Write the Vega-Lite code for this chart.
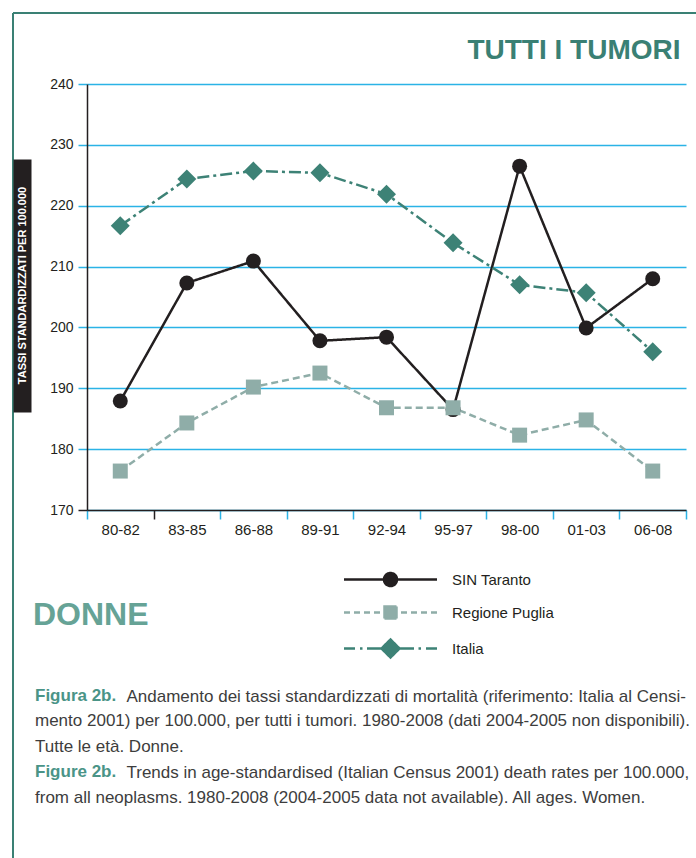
{
  "$schema": "https://vega.github.io/schema/vega-lite/v6.json",
  "width": 683,
  "height": 845,
  "autosize": {"type": "none"},
  "padding": {"left": 13, "top": 13, "right": 0, "bottom": 0},
  "background": "white",
  "config": {
    "view": {"stroke": "#3a8074", "strokeWidth": 2, "strokeDash": [683, 1528, 845, 0]},
    "font": "Liberation Sans"
  },
  "title": {
    "text": [
      "\u200b",
      "mento 2001) per 100.000, per tutti i tumori. 1980-2008 (dati 2004-2005 non disponibili).",
      "Tutte le età. Donne.",
      "\u200b",
      "from all neoplasms. 1980-2008 (2004-2005 data not available). All ages. Women."
    ],
    "subtitle": ["Figura 2b.", "\u200b", "\u200b", "Figure 2b."],
    "orient": "bottom",
    "anchor": "start",
    "frame": "group",
    "offset": -170,
    "dx": 22,
    "font": "Liberation Sans",
    "fontSize": 17,
    "fontWeight": "normal",
    "color": "#3d3d3d",
    "lineHeight": 25.4,
    "subtitleFont": "Liberation Sans",
    "subtitleFontSize": 17,
    "subtitleFontWeight": "bold",
    "subtitleColor": "#4a9487",
    "subtitleLineHeight": 25.4,
    "subtitlePadding": -118.6
  },
  "data": {
    "values": [
      {"period": "80-82", "series": "SIN Taranto", "rate": 187.9},
      {"period": "83-85", "series": "SIN Taranto", "rate": 207.3},
      {"period": "86-88", "series": "SIN Taranto", "rate": 210.9},
      {"period": "89-91", "series": "SIN Taranto", "rate": 197.8},
      {"period": "92-94", "series": "SIN Taranto", "rate": 198.4},
      {"period": "95-97", "series": "SIN Taranto", "rate": 186.5},
      {"period": "98-00", "series": "SIN Taranto", "rate": 226.5},
      {"period": "01-03", "series": "SIN Taranto", "rate": 199.9},
      {"period": "06-08", "series": "SIN Taranto", "rate": 208.0},
      {"period": "80-82", "series": "Regione Puglia", "rate": 176.4},
      {"period": "83-85", "series": "Regione Puglia", "rate": 184.3},
      {"period": "86-88", "series": "Regione Puglia", "rate": 190.2},
      {"period": "89-91", "series": "Regione Puglia", "rate": 192.5},
      {"period": "92-94", "series": "Regione Puglia", "rate": 186.8},
      {"period": "95-97", "series": "Regione Puglia", "rate": 186.8},
      {"period": "98-00", "series": "Regione Puglia", "rate": 182.3},
      {"period": "01-03", "series": "Regione Puglia", "rate": 184.8},
      {"period": "06-08", "series": "Regione Puglia", "rate": 176.4},
      {"period": "80-82", "series": "Italia", "rate": 216.7},
      {"period": "83-85", "series": "Italia", "rate": 224.4},
      {"period": "86-88", "series": "Italia", "rate": 225.7},
      {"period": "89-91", "series": "Italia", "rate": 225.4},
      {"period": "92-94", "series": "Italia", "rate": 221.9},
      {"period": "95-97", "series": "Italia", "rate": 213.9},
      {"period": "98-00", "series": "Italia", "rate": 207.0},
      {"period": "01-03", "series": "Italia", "rate": 205.7},
      {"period": "06-08", "series": "Italia", "rate": 196.0}
    ]
  },
  "resolve": {"scale": {"y": "independent"}},
  "layer": [
    {
      "layer": [
        {
          "mark": {"type": "line", "strokeWidth": 2.5},
          "encoding": {
            "x": {
              "field": "period",
              "type": "ordinal",
              "sort": ["80-82", "83-85", "86-88", "89-91", "92-94", "95-97", "98-00", "01-03", "06-08"],
              "scale": {"type": "band", "range": [74, 673], "paddingInner": 0, "paddingOuter": 0},
              "axis": {
                "orient": "bottom",
                "offset": -348,
                "domainColor": "#231f20",
                "domainWidth": 1.5,
                "tickBand": "extent",
                "tickColor": {"condition": {"test": "datum.value === '80-82'", "value": "#231f20"}, "value": "#2bb3e6"},
                "tickSize": 9,
                "tickWidth": 1.5,
                "labelFont": "Liberation Sans",
                "labelFontSize": 15,
                "labelColor": "#231f20",
                "labelPadding": 3,
                "labelAngle": 0,
                "grid": false,
                "title": "TUTTI I TUMORI",
                "titleFont": "Liberation Sans",
                "titleFontSize": 28,
                "titleFontWeight": "bold",
                "titleColor": "#3a8074",
                "titleX": 667,
                "titleY": -452,
                "titleAlign": "right",
                "titleBaseline": "alphabetic",
                "titleAngle": 0
              }
            },
            "y": {
              "field": "rate",
              "type": "quantitative",
              "scale": {"domain": [170, 240], "range": [497, 71], "zero": false, "nice": false},
              "axis": {
                "orient": "left",
                "offset": -74,
                "values": [170, 180, 190, 200, 210, 220, 230, 240],
                "domainColor": "#231f20",
                "domainWidth": 1.5,
                "tickColor": {"condition": {"test": "datum.value === 170", "value": "#231f20"}, "value": "#2bb3e6"},
                "tickSize": 9,
                "tickWidth": 1.5,
                "labelFont": "Liberation Sans",
                "labelFontSize": 14,
                "labelColor": "#231f20",
                "labelPadding": 5,
                "grid": true,
                "gridColor": "#2bb3e6",
                "gridWidth": 1.3,
                "title": [
                  "Andamento dei tassi standardizzati di mortalità (riferimento: Italia al Censi-",
                  "\u200b",
                  "\u200b",
                  "Trends in age-standardised (Italian Census 2001) death rates per 100.000,"
                ],
                "titleFont": "Liberation Sans",
                "titleFontSize": 17,
                "titleFontWeight": "normal",
                "titleColor": "#3d3d3d",
                "titleLineHeight": 25.4,
                "titleLimit": 2000,
                "titleAngle": 0,
                "titleAlign": "left",
                "titleBaseline": "top",
                "titleX": 39,
                "titleY": 675
              }
            },
            "color": {
              "field": "series",
              "type": "nominal",
              "scale": {"domain": ["SIN Taranto", "Regione Puglia", "Italia"], "range": ["#231f20", "#8fada8", "#3d8276"]},
              "legend": {
                "orient": "none",
                "legendX": 20,
                "legendY": 555,
                "direction": "vertical",
                "title": "DONNE",
                "titleOrient": "left",
                "titleFont": "Liberation Sans",
                "titleFontSize": 32,
                "titleFontWeight": "bold",
                "titleColor": "#66a396",
                "titlePadding": 230,
                "titleAnchor": "middle",
                "titleBaseline": "middle",
                "labelFont": "Liberation Sans",
                "labelFontSize": 15,
                "labelColor": "#231f20",
                "labelOffset": 50,
                "symbolSize": 400,
                "rowPadding": 10,
                "symbolType": "circle",
                "encode": {
                  "symbols": {
                    "update": {
                      "shape": {"signal": "datum.value === 'SIN Taranto' ? 'M-4.65,0L4.65,0M-0.65,0A0.65,0.65,0,1,0,0.65,0A0.65,0.65,0,1,0,-0.65,0Z' : datum.value === 'Regione Puglia' ? 'M-4.65,0L-4.05,0M-3.65,0L-3.05,0M-2.65,0L-2.05,0M-1.65,0L-1.05,0M1.05,0L1.65,0M2.05,0L2.65,0M3.05,0L3.65,0M4.05,0L4.65,0M-0.6,-0.6L0.6,-0.6L0.6,0.6L-0.6,0.6Z' : 'M-4.65,0L-3.55,0M-3.05,0L-2.8,0M-2.35,0L-0.9,0M0.9,0L2.35,0M2.8,0L3.05,0M3.55,0L4.65,0M-0.9,0L0,-0.9L0.9,0L0,0.9Z'"},
                      "size": {"value": 400},
                      "fill": {"signal": "datum.value === 'SIN Taranto' ? '#231f20' : datum.value === 'Regione Puglia' ? '#8fada8' : '#3d8276'"},
                      "stroke": {"signal": "datum.value === 'SIN Taranto' ? '#231f20' : datum.value === 'Regione Puglia' ? '#8fada8' : '#3d8276'"},
                      "strokeWidth": {"value": 2.5},
                      "strokeDash": {"value": [1, 0]},
                      "opacity": {"value": 1},
                      "fillOpacity": {"value": 1},
                      "strokeOpacity": {"value": 1}
                    }
                  }
                }
              }
            },
            "strokeDash": {
              "condition": [
                {"test": "datum.series === 'Regione Puglia'", "value": [7, 4]},
                {"test": "datum.series === 'Italia'", "value": [12, 4, 3, 4]}
              ],
              "value": [1, 0]
            }
          }
        },
        {
          "mark": {"type": "point", "filled": true, "opacity": 1, "strokeWidth": 0},
          "encoding": {
            "x": {"field": "period", "type": "ordinal", "sort": ["80-82", "83-85", "86-88", "89-91", "92-94", "95-97", "98-00", "01-03", "06-08"]},
            "y": {"field": "rate", "type": "quantitative"},
            "color": {"field": "series", "type": "nominal"},
            "shape": {
              "condition": [
                {"test": "datum.series === 'SIN Taranto'", "value": "circle"},
                {"test": "datum.series === 'Regione Puglia'", "value": "square"}
              ],
              "value": "diamond"
            },
            "size": {"condition": {"test": "datum.series === 'Italia'", "value": 361}, "value": 225}
          }
        }
      ]
    },
    {
      "mark": {"type": "point", "opacity": 0},
      "encoding": {
        "x": {"field": "period", "type": "ordinal", "sort": ["80-82", "83-85", "86-88", "89-91", "92-94", "95-97", "98-00", "01-03", "06-08"]},
        "y": {
          "field": "rate",
          "type": "quantitative",
          "scale": {"domain": [170, 240], "range": [399, 146], "zero": false, "nice": false},
          "axis": {
            "orient": "left",
            "offset": -9,
            "domain": true,
            "domainColor": "#231f20",
            "domainWidth": 18,
            "ticks": false,
            "labels": false,
            "grid": false,
            "title": "TASSI STANDARDIZZATI PER 100.000",
            "titleColor": "white",
            "titleFont": "Liberation Sans",
            "titleFontSize": 11,
            "titleFontWeight": "bold",
            "titleX": 0,
            "titleY": 272,
            "titleAngle": -90,
            "titleAlign": "center",
            "titleBaseline": "middle"
          }
        }
      }
    }
  ]
}
